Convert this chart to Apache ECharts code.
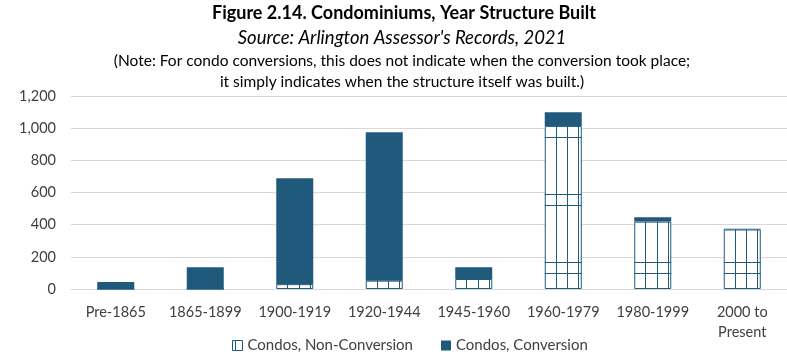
<!DOCTYPE html>
<html>
<head>
<meta charset="utf-8">
<style>
  html, body { margin: 0; padding: 0; background: #ffffff; }
  #chart { width: 787px; height: 356px; }
</style>
<script src="https://cdn.jsdelivr.net/npm/echarts@6/dist/echarts.min.js"></script>
</head>
<body>
<div id="chart"></div>
<script>
// Year-built ranges for Arlington condominium structures
const categories = ['Pre-1865', '1865-1899', '1900-1919', '1920-1944', '1945-1960', '1960-1979', '1980-1999', '2000 to\nPresent'];
// Units per period
const nonConversion = [0, 0, 30, 52, 62, 1014, 419, 370];
const conversion = [43, 135, 658, 922, 73, 85, 27, 5];
const yTicks = { min: 0, max: 1200, interval: 200 };

const BLUE = '#1f5a7d';
const FONT = 'Lato, "Open Sans", sans-serif';
const BAR_W = 37;

const chart = echarts.init(document.getElementById('chart'), null, { renderer: 'canvas' });

// Grid-like hatching inside the non-conversion bars
function hatchItem(params, api) {
  const idx = api.value(0);
  const v = api.value(1);
  if (!(v > 0)) return null;
  const base = api.coord([idx, 0]);
  const top = api.coord([idx, v]);
  const x0 = base[0] - BAR_W / 2;
  const x1 = base[0] + BAR_W / 2;
  const yBase = base[1];
  const yTop = top[1];
  const children = [];
  const style = { stroke: BLUE, lineWidth: 1 };
  for (let k = 1; k <= 3; k++) {
    const x = Math.round(x0 + 11.2 * k) + 0.5;
    if (x < x1 - 1) {
      children.push({ type: 'line', shape: { x1: x, y1: yTop, x2: x, y2: yBase }, style });
    }
  }
  for (let j = 0; j < 20; j++) {
    [16, 27].forEach(function (off) {
      const y = Math.round(yBase - off - 68 * j) + 0.5;
      if (y > yTop + 1) {
        children.push({ type: 'line', shape: { x1: x0, y1: y, x2: x1, y2: y }, style });
      }
    });
  }
  return { type: 'group', children };
}

chart.setOption({
  animation: false,
  textStyle: { fontFamily: FONT },
  title: [
    {
      text: 'Figure 2.14. Condominiums, Year Structure Built',
      left: 404, top: 1, textAlign: 'center', padding: 0,
      textStyle: { fontFamily: FONT, fontWeight: 'bold', fontSize: 18, lineHeight: 24, color: '#000000' }
    },
    {
      text: "Source: Arlington Assessor's Records, 2021",
      left: 402, top: 26, textAlign: 'center', padding: 0,
      textStyle: { fontFamily: FONT, fontStyle: 'italic', fontWeight: 'normal', fontSize: 18.5, lineHeight: 24, color: '#000000' }
    },
    {
      text: '(Note: For condo conversions, this does not indicate when the conversion took place;\nit simply indicates when the structure itself was built.)',
      left: 402, top: 50, textAlign: 'center', padding: 0,
      textStyle: { fontFamily: FONT, fontWeight: 'normal', fontSize: 15.5, lineHeight: 21, color: '#000000' }
    }
  ],
  legend: {
    left: 232, top: 338, padding: 0,
    itemGap: 28, itemWidth: 10, itemHeight: 10,
    textStyle: { fontFamily: FONT, fontSize: 15, color: '#404040' },
    data: [
      { name: 'Condos, Non-Conversion', icon: 'path://M0,0H10V10H0Z M3,0V10', itemStyle: { color: '#ffffff', borderColor: BLUE, borderWidth: 1 } },
      { name: 'Condos, Conversion', icon: 'rect' }
    ]
  },
  grid: { left: 71, top: 96, width: 718, height: 193, containLabel: false },
  xAxis: {
    type: 'category',
    data: categories,
    axisLine: { lineStyle: { color: '#d9d9d9', width: 1 } },
    axisTick: { show: false },
    axisLabel: { fontFamily: FONT, fontSize: 14.5, color: '#404040', margin: 13, lineHeight: 20, interval: 0 }
  },
  yAxis: {
    type: 'value',
    min: yTicks.min, max: yTicks.max, interval: yTicks.interval,
    axisLine: { show: false },
    axisTick: { show: false },
    splitLine: { lineStyle: { color: '#d9d9d9', width: 1 } },
    axisLabel: {
      fontFamily: FONT, fontSize: 14.5, color: '#404040', margin: 15,
      formatter: v => v.toLocaleString('en-US')
    }
  },
  series: [
    {
      name: 'Condos, Non-Conversion',
      type: 'bar', stack: 'total', barWidth: BAR_W,
      data: nonConversion,
      itemStyle: { color: '#ffffff', borderColor: BLUE, borderWidth: 1 }
    },
    {
      name: 'Condos, Conversion',
      type: 'bar', stack: 'total', barWidth: BAR_W,
      data: conversion,
      itemStyle: { color: BLUE }
    },
    {
      name: 'hatch',
      type: 'custom',
      silent: true,
      renderItem: hatchItem,
      data: nonConversion.map((v, i) => [i, v]),
      encode: { x: 0, y: 1 },
      z: 3
    }
  ]
});
</script>
</body>
</html>
